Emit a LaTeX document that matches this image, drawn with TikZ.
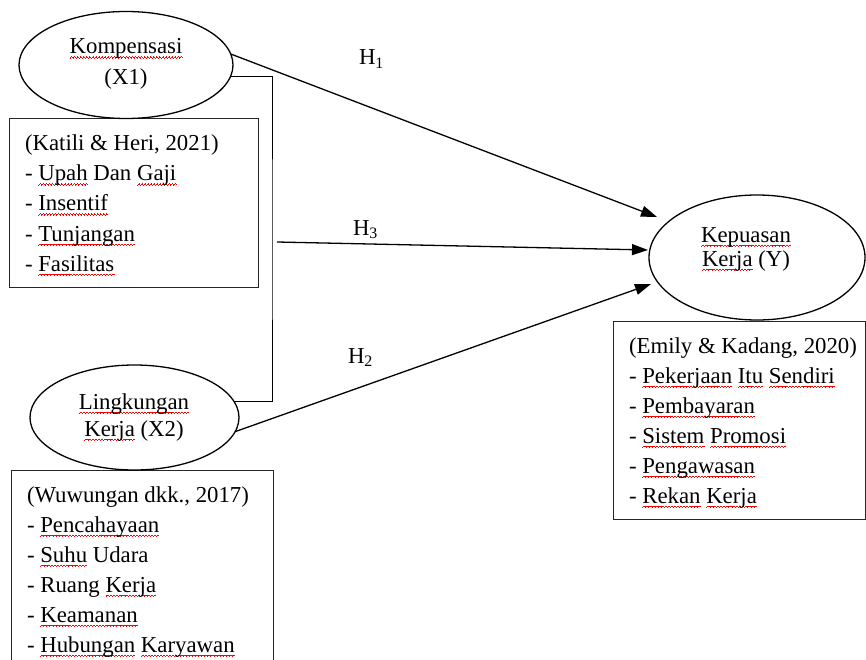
\documentclass[tikz,border=0pt]{standalone}
\usepackage{fontspec}
\setmainfont{Liberation Serif}
\usetikzlibrary{shapes.geometric,arrows.meta}
\newsavebox\wavebox
\newcommand\wv[1]{\raise#1\hbox{\vrule width0.75pt height0.7pt depth0pt}}
\newcommand\sq[1]{\setbox0\hbox{#1}\rlap{\lower4.4pt\hbox to\wd0{\xleaders\copy\wavebox\hfil}}\box0\relax}
\tikzset{
  every node/.style={font=\fontsize{22.8}{30}\selectfont, inner sep=0pt, outer sep=0pt},
  latent/.style={ellipse, draw, line width=1.3pt},
  txt/.style={anchor=base west},
  ctr/.style={anchor=base},
  arr/.style={line width=1.3pt, -{Triangle[length=16pt,width=11pt]}},
  frame/.style={line width=1pt, draw=black!85},
}
\begin{document}
\sbox\wavebox{\color{red}\wv{0pt}\wv{0.6pt}\wv{1.2pt}\wv{0.6pt}}%
\begin{tikzpicture}[x=1pt,y=-1pt]
\useasboundingbox (0,0) rectangle (866,660);
\clip (0,0) rectangle (866,660);

% boxes
\draw[frame] (9.5,119) rectangle (258,287);
\draw[frame] (11,680) -- (11,470) -- (273,470) -- (273,680);
\draw[frame] (613,321) rectangle (865,519);

% latent variables
\node[latent, minimum width=214pt, minimum height=107pt] (x1) at (126,65) {};
\node[latent, minimum width=209pt, minimum height=105pt] (x2) at (134.5,417.5) {};
\node[latent, minimum width=216pt, minimum height=125pt] (y) at (757,257.5) {};

\node[ctr] (x1a) at (126,54) {\sq{Kompensasi}};
\node[ctr] (x1b) at (126,85) {(X1)};
\node[ctr] (x2a) at (134,409) {\sq{Lingkungan}};
\node[ctr] (x2b) at (134,436) {\sq{Kerja} (X2)};
\node[ctr] (ya) at (746,242) {\sq{Kepuasan}};
\node[ctr] (yb) at (746,266) {\sq{Kerja} (Y)};

% indicator lists
\foreach \t [count=\i] in {{(Katili \& Heri, 2021)},{- \sq{Upah} Dan \sq{Gaji}},{- \sq{Insentif}},{- \sq{Tunjangan}},{- \sq{Fasilitas}}}
  \node[txt] (ka\i) at (25,{151+30*\i-30}) {\t};
\foreach \t [count=\i] in {{(Wuwungan dkk., 2017)},{- \sq{Pencahayaan}},{- \sq{Suhu} Udara},{- Ruang \sq{Kerja}},{- \sq{Keamanan}},{- \sq{Hubungan} \sq{Karyawan}}}
  \node[txt] (kb\i) at (27,{502+30*\i-30}) {\t};
\foreach \t [count=\i] in {{(Emily \& Kadang, 2020)},{- \sq{Pekerjaan} \sq{Itu} \sq{Sendiri}},{- \sq{Pembayaran}},{- \sq{Sistem} \sq{Promosi}},{- \sq{Pengawasan}},{- \sq{Rekan} \sq{Kerja}}}
  \node[txt] (kc\i) at (629,{353+30*\i-30}) {\t};

% bracket joining X1 and X2
\coordinate (bk) at (272,240);
\draw[line width=1pt] (x1.-6.6) -| (bk) |- (x2.9.7);

% hypothesis arrows
\coordinate (t1) at (657,217);
\coordinate (s3) at (277,242);
\coordinate (t3) at (648,250);
\coordinate (t2) at (651,284);
\draw[arr] (x1.6.6) -- (t1);
\draw[arr] (s3) -- (t3);
\draw[arr] (x2.-8) -- (t2);

\node[txt] (h1) at (359,65) {H\textsubscript{1}};
\node[txt] (h3) at (353,235) {H\textsubscript{3}};
\node[txt] (h2) at (348,363) {H\textsubscript{2}};
\end{tikzpicture}
\end{document}
